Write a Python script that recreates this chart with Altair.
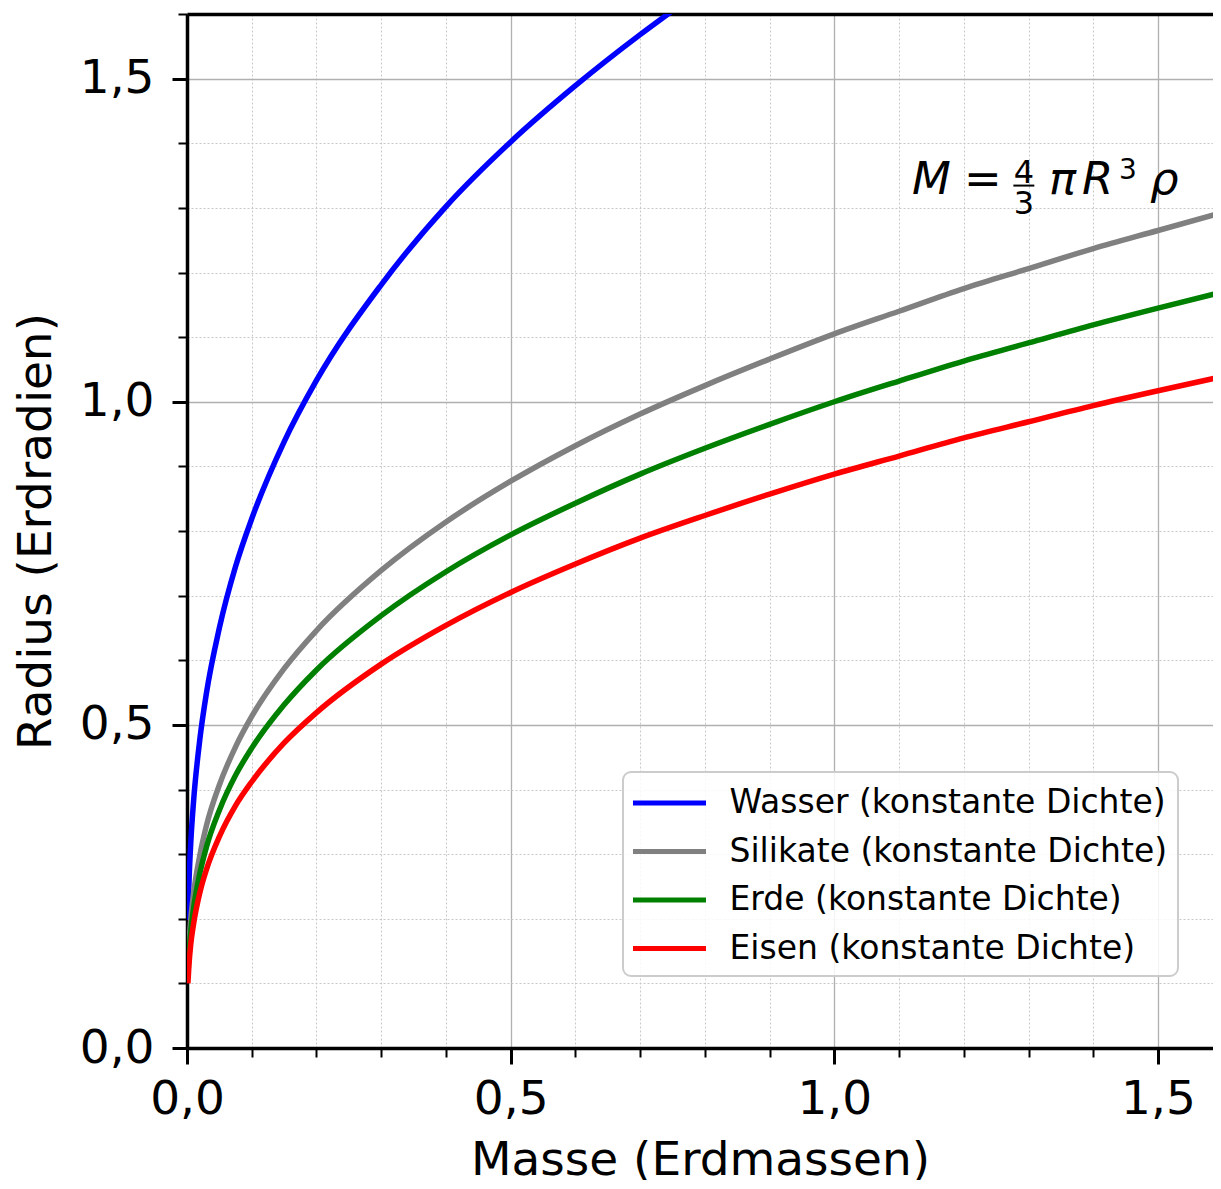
import altair as alt
import pandas as pd

# ---------------- data ----------------
masse = [0.0014, 0.003, 0.006, 0.01, 0.02, 0.03, 0.05, 0.075, 0.1, 0.15, 0.2,
         0.3, 0.4, 0.5, 0.6, 0.7, 0.8, 0.9, 1.0, 1.1, 1.2, 1.3, 1.4, 1.5, 1.6]
masse_wasser = [0.0014, 0.003, 0.006, 0.01, 0.02, 0.03, 0.05, 0.075, 0.1, 0.15,
                0.2, 0.3, 0.4, 0.5, 0.6, 0.7, 0.75]
radius_wasser = [0.198, 0.254, 0.321, 0.380, 0.479, 0.549, 0.650, 0.745, 0.819,
                 0.938, 1.033, 1.181, 1.302, 1.402, 1.489, 1.568, 1.605]
radius_silikate = [0.124, 0.159, 0.201, 0.238, 0.299, 0.344, 0.407, 0.466, 0.513,
                   0.587, 0.646, 0.739, 0.814, 0.877, 0.932, 0.981, 1.025, 1.066,
                   1.105, 1.140, 1.175, 1.206, 1.237, 1.265, 1.293]
radius_erde = [0.112, 0.144, 0.182, 0.215, 0.271, 0.311, 0.368, 0.422, 0.464,
               0.531, 0.585, 0.669, 0.737, 0.794, 0.843, 0.888, 0.928, 0.965,
               1.000, 1.032, 1.063, 1.091, 1.119, 1.145, 1.170]
radius_eisen = [0.100, 0.128, 0.162, 0.191, 0.241, 0.276, 0.327, 0.375, 0.412,
                0.472, 0.519, 0.594, 0.654, 0.705, 0.749, 0.789, 0.824, 0.857,
                0.888, 0.916, 0.944, 0.969, 0.994, 1.017, 1.039]

serien = ["Wasser (konstante Dichte)", "Silikate (konstante Dichte)",
          "Erde (konstante Dichte)", "Eisen (konstante Dichte)"]
farben = ["#0000ff", "#808080", "#008000", "#ff0000"]

major_ticks = [0.0, 0.5, 1.0, 1.5]
minor_ticks = [0.1, 0.2, 0.3, 0.4, 0.6, 0.7, 0.8, 0.9, 1.1, 1.2, 1.3, 1.4, 1.6]

# ---------------- table ----------------
rows = []
for name, xs, ys in [(serien[0], masse_wasser, radius_wasser),
                     (serien[1], masse, radius_silikate),
                     (serien[2], masse, radius_erde),
                     (serien[3], masse, radius_eisen)]:
    for i, (m, r) in enumerate(zip(xs, ys)):
        rows.append({"Masse": m, "Radius": r, "Serie": name, "i": i})
df = pd.DataFrame(rows)

FONT = "DejaVu Sans"
# the reference's x axis runs to 1.6 just past the picture's right edge
xs_scale = alt.Scale(domain=[0, 1.585], nice=False, zero=False)
ys_scale = alt.Scale(domain=[0, 1.6], nice=False, zero=False)
label_expr = "replace(format(datum.value, '.1f'), '.', ',')"

minor_x = [v for v in minor_ticks if v <= 1.585]

# minor grid + minor ticks
minor = alt.Chart(df).mark_point(opacity=0).encode(
    x=alt.X("Masse:Q", scale=xs_scale,
            axis=alt.Axis(values=minor_x, labels=False, domain=False,
                          tickSize=9, tickWidth=2, tickColor="black",
                          grid=True, gridColor="#c8c8c8", gridDash=[2, 2],
                          gridWidth=1, title=None, orient="bottom")),
    y=alt.Y("Radius:Q", scale=ys_scale,
            axis=alt.Axis(values=minor_ticks, labels=False, domain=False,
                          tickSize=9, tickWidth=2, tickColor="black",
                          grid=True, gridColor="#c8c8c8", gridDash=[2, 2],
                          gridWidth=1, title=None, orient="left")),
)

# top spine
top = alt.Chart(df).mark_point(opacity=0).encode(
    x=alt.X("Masse:Q", scale=xs_scale,
            axis=alt.Axis(orient="top", labels=False, ticks=False, grid=False,
                          domain=True, domainColor="black", domainWidth=3.5,
                          title=None)),
)

lines = alt.Chart(df).mark_line(strokeWidth=5.5, clip=True, interpolate="monotone").encode(
    x=alt.X("Masse:Q", scale=xs_scale,
            axis=alt.Axis(values=major_ticks, labelExpr=label_expr,
                          labelFont=FONT, labelFontSize=47, labelColor="black",
                          labelPadding=12, labelFlush=False, labelOverlap=False,
                          tickSize=16, tickWidth=3, tickColor="black",
                          domainColor="black", domainWidth=3.5,
                          grid=True, gridColor="#b0b0b0", gridWidth=1.3,
                          title="Masse (Erdmassen)", titleFont=FONT,
                          titleFontSize=47, titleFontWeight="normal",
                          titleColor="black", titlePadding=15, orient="bottom")),
    y=alt.Y("Radius:Q", scale=ys_scale,
            axis=alt.Axis(values=major_ticks, labelExpr=label_expr,
                          labelFont=FONT, labelFontSize=47, labelColor="black",
                          labelPadding=18, labelFlush=False, labelOverlap=False,
                          tickSize=15, tickWidth=3, tickColor="black",
                          domainColor="black", domainWidth=3.5,
                          grid=True, gridColor="#b0b0b0", gridWidth=1.3,
                          title="Radius (Erdradien)", titleFont=FONT,
                          titleFontSize=47, titleFontWeight="normal",
                          titleColor="black", titlePadding=19, orient="left")),
    color=alt.Color("Serie:N",
                    scale=alt.Scale(domain=serien, range=farben),
                    legend=alt.Legend(orient="none", legendX=436, legendY=758,
                                      title=None, symbolType="M-2,0H2",
                                      symbolSize=1332, symbolStrokeWidth=5,
                                      symbolOffset=15.5,
                                      labelFont=FONT, labelFontSize=33,
                                      labelColor="black", labelOffset=39,
                                      labelLimit=0, rowPadding=10.5, padding=10,
                                      fillColor="rgba(255,255,255,0.85)",
                                      strokeColor="#cccccc", cornerRadius=8)),
    order=alt.Order("i:Q"),
)

# formula annotation  M = 4/3 π R^3 ρ
formel_x = [1.12]
formel_y = [1.322]
fdf = pd.DataFrame({"x": formel_x, "y": formel_y})
stuecke = [
    ("M", 45, "italic", "left", 0, 0),
    ("=", 45, "normal", "left", 52, 0),
    ("4", 32, "normal", "center", 112, -11),
    ("3", 32, "normal", "center", 112, 20),
    ("π", 45, "italic", "left", 137, 0),
    ("R", 45, "italic", "left", 170, 0),
    ("3", 28, "normal", "left", 207, -15),
    ("ρ", 45, "italic", "left", 238, 0),
]
formel_layers = []
for txt, size, style, align, dx, dy in stuecke:
    formel_layers.append(
        alt.Chart(fdf).mark_text(text=txt, font=FONT, fontSize=size,
                                 fontStyle=style, align=align,
                                 baseline="alphabetic", dx=dx, dy=dy,
                                 color="black").encode(
            x=alt.X("x:Q", scale=xs_scale, axis=None),
            y=alt.Y("y:Q", scale=ys_scale, axis=None),
        )
    )
bruch_df = pd.DataFrame({"x": [1.2766], "x2": [1.309], "y": [1.3345]})
bruch = alt.Chart(bruch_df).mark_rule(color="black", strokeWidth=2).encode(
    x=alt.X("x:Q", scale=xs_scale, axis=None),
    x2="x2:Q",
    y=alt.Y("y:Q", scale=ys_scale, axis=None),
)

chart = alt.layer(minor, top, lines, bruch, *formel_layers).resolve_axis(
    x="independent", y="independent"
).properties(
    width=1026, height=1034,
    autosize=alt.AutoSizeParams(type="none"),
    padding={"left": 179, "top": 6, "right": 0, "bottom": 132},
).configure_view(stroke="transparent").configure_legend(strokeWidth=2)

chart.save("out.html", embed_options={"renderer": "svg", "actions": False})
